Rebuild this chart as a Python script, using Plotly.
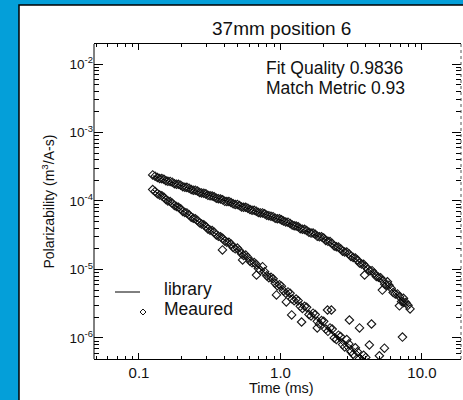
import plotly.graph_objects as go

# ---------------- data ----------------
time_ms = [0.125, 0.135, 0.145, 0.155, 0.166, 0.178, 0.19, 0.204, 0.218, 0.234,
           0.25, 0.268, 0.287, 0.307, 0.329, 0.352, 0.377, 0.404, 0.432, 0.463,
           0.496, 0.531, 0.568, 0.609, 0.652, 0.698, 0.747, 0.8, 0.857, 0.918,
           0.983, 1.05, 1.13, 1.21, 1.29, 1.38, 1.48, 1.59, 1.7, 1.82,
           1.95, 2.09, 2.24, 2.4, 2.57, 2.75, 2.94, 3.15, 3.38, 3.62,
           3.87, 4.15, 4.44, 4.76, 5.1, 5.46, 5.85, 6.26, 6.71, 7.18,
           7.69, 8.24]

time_ms_b = [0.13, 0.14, 0.15, 0.16, 0.172, 0.184, 0.197, 0.211, 0.226, 0.242,
             0.259, 0.277, 0.297, 0.318, 0.34, 0.364, 0.39, 0.418, 0.447, 0.479,
             0.513, 0.549, 0.588, 0.63, 0.675, 0.722, 0.773, 0.828, 0.887, 0.95,
             1.016, 1.09, 1.17, 1.25, 1.335, 1.43, 1.53, 1.645, 1.76, 1.885,
             2.02, 2.165, 2.32, 2.485, 2.66, 2.845, 3.045, 3.265, 3.5, 3.745,
             4.01, 4.295, 4.6, 4.93, 5.28, 5.655, 6.055, 6.485, 6.945, 7.435,
             7.965]

upper_measured = [2.40e-4, 2.20e-4, 2.12e-4, 1.98e-4, 1.93e-4, 1.79e-4, 1.75e-4, 1.62e-4, 1.58e-4, 1.47e-4,
                  1.44e-4, 1.33e-4, 1.30e-4, 1.21e-4, 1.18e-4, 1.10e-4, 1.07e-4, 0.99e-4, 9.8e-5, 9.1e-5,
                  8.9e-5, 8.2e-5, 8.1e-5, 7.5e-5, 7.3e-5, 6.8e-5, 6.7e-5, 6.2e-5, 6.0e-5, 5.6e-5,
                  5.5e-5, 5.1e-5, 4.9e-5, 4.45e-5, 4.3e-5, 3.95e-5, 3.85e-5, 3.5e-5, 3.4e-5, 3.05e-5,
                  3.0e-5, 2.65e-5, 2.55e-5, 2.2e-5, 2.12e-5, 1.85e-5, 1.8e-5, 1.55e-5, 1.47e-5, 1.24e-5,
                  1.19e-5, 1.0e-5, 9.6e-6, 7.9e-6, 7.6e-6, 6.1e-6, 5.9e-6, 4.6e-6, 4.4e-6, 3.4e-6,
                  3.3e-6, 2.65e-6]

upper_measured_b = [2.30e-4, 2.13e-4, 2.07e-4, 1.94e-4, 1.88e-4, 1.76e-4, 1.70e-4, 1.59e-4, 1.54e-4, 1.44e-4,
                    1.40e-4, 1.31e-4, 1.27e-4, 1.19e-4, 1.15e-4, 1.08e-4, 1.04e-4, 9.8e-5, 9.5e-5, 8.9e-5,
                    8.6e-5, 8.1e-5, 7.85e-5, 7.35e-5, 7.1e-5, 6.7e-5, 6.5e-5, 6.1e-5, 5.9e-5, 5.5e-5,
                    5.3e-5, 4.95e-5, 4.7e-5, 4.35e-5, 4.2e-5, 3.88e-5, 3.7e-5, 3.4e-5, 3.27e-5, 3.0e-5,
                    2.87e-5, 2.58e-5, 2.4e-5, 2.15e-5, 2.0e-5, 1.8e-5, 1.7e-5, 1.5e-5, 1.37e-5, 1.2e-5,
                    1.1e-5, 9.6e-6, 8.8e-6, 7.7e-6, 6.9e-6, 5.9e-6, 5.3e-6, 4.4e-6, 4.0e-6, 3.3e-6,
                    3.0e-6]

upper_library = [2.34e-4, 2.22e-4, 2.10e-4, 2.00e-4, 1.91e-4, 1.81e-4, 1.73e-4, 1.64e-4, 1.57e-4, 1.49e-4,
                 1.42e-4, 1.35e-4, 1.29e-4, 1.23e-4, 1.17e-4, 1.11e-4, 1.06e-4, 1.01e-4, 9.66e-5, 9.20e-5,
                 8.77e-5, 8.36e-5, 7.98e-5, 7.59e-5, 7.24e-5, 6.90e-5, 6.59e-5, 6.28e-5, 5.98e-5, 5.70e-5,
                 5.43e-5, 5.14e-5, 4.81e-5, 4.52e-5, 4.27e-5, 4.02e-5, 3.78e-5, 3.54e-5, 3.33e-5, 3.13e-5,
                 2.94e-5, 2.72e-5, 2.48e-5, 2.27e-5, 2.07e-5, 1.90e-5, 1.75e-5, 1.60e-5, 1.43e-5, 1.28e-5,
                 1.15e-5, 1.03e-5, 9.23e-6, 8.22e-6, 7.31e-6, 6.37e-6, 5.56e-6, 4.82e-6, 4.19e-6, 3.65e-6,
                 3.17e-6, 2.75e-6]

upper_scatter_t = [3.93, 5.25, 5.7, 6.93, 7.4]
upper_scatter_y = [8.3e-6, 5.0e-6, 6.6e-6, 2.95e-6, 3.8e-6]

lower_measured = [1.47e-4, 1.28e-4, 1.19e-4, 1.05e-4, 9.8e-5, 8.6e-5, 8.1e-5, 7.0e-5, 6.7e-5, 5.8e-5,
                  5.5e-5, 4.8e-5, 4.5e-5, 3.9e-5, 3.7e-5, 3.2e-5, 3.0e-5, 2.6e-5, 2.5e-5, 2.1e-5,
                  2.05e-5, 1.7e-5, 1.62e-5, 1.32e-5, 1.26e-5, 1.03e-5, 1.1e-5, 8.1e-6, 7.7e-6, 6.3e-6,
                  6.0e-6, 4.9e-6, 4.7e-6, 3.7e-6, 3.7e-6, 2.9e-6, 2.9e-6, 2.2e-6, 2.3e-6, 1.75e-6,
                  1.8e-6, 1.35e-6, 1.4e-6, 1.0e-6, 1.1e-6, 8.0e-7, 9.5e-7, 6.3e-7, 7.2e-7, 5.0e-7,
                  5.6e-7, 4.3e-7, 4.0e-7]

lower_measured_b = [1.38e-4, 1.22e-4, 1.13e-4, 1.0e-4, 9.3e-5, 8.3e-5, 7.7e-5, 6.8e-5, 6.3e-5, 5.6e-5,
                    5.2e-5, 4.6e-5, 4.25e-5, 3.75e-5, 3.5e-5, 3.05e-5, 2.85e-5, 2.5e-5, 2.35e-5, 2.0e-5,
                    1.9e-5, 1.6e-5, 1.5e-5, 1.25e-5, 1.18e-5, 0.97e-5, 9.3e-6, 7.6e-6, 7.3e-6, 5.8e-6,
                    5.7e-6, 4.5e-6, 4.5e-6, 3.5e-6, 3.5e-6, 2.7e-6, 2.8e-6, 2.1e-6, 2.2e-6, 1.6e-6,
                    1.75e-6, 1.25e-6, 1.35e-6, 0.95e-6, 1.05e-6, 7.4e-7, 8.2e-7, 5.8e-7, 6.3e-7, 4.6e-7,
                    5.2e-7, 4.0e-7]

lower_library = [1.45e-4, 1.30e-4, 1.17e-4, 1.07e-4, 9.66e-5, 8.77e-5, 7.98e-5, 7.21e-5, 6.58e-5, 5.94e-5,
                 5.41e-5, 4.89e-5, 4.42e-5, 4.00e-5, 3.61e-5, 3.27e-5, 2.96e-5, 2.67e-5, 2.43e-5, 2.18e-5,
                 1.98e-5, 1.76e-5, 1.56e-5, 1.37e-5, 1.22e-5, 1.07e-5, 9.53e-6, 8.41e-6, 7.43e-6, 6.56e-6,
                 5.79e-6, 5.15e-6, 4.50e-6, 3.96e-6, 3.52e-6, 3.12e-6, 2.75e-6, 2.41e-6, 2.13e-6, 1.88e-6,
                 1.66e-6, 1.46e-6, 1.28e-6, 1.12e-6, 9.86e-7, 8.71e-7, 7.67e-7, 6.75e-7, 5.93e-7, 5.21e-7,
                 4.59e-7, 4.04e-7, 3.56e-7]

lower_branch_a_t = [2.24, 2.75, 3.38, 4.15]
lower_branch_a_y = [1.3e-6, 9.5e-7, 6.8e-7, 4.5e-7]
lower_branch_b_t = [2.24, 2.75, 3.38]
lower_branch_b_y = [1.25e-6, 8.0e-7, 4.5e-7]

lower_scatter_t = [0.389, 0.54, 0.677, 0.937, 1.10, 1.20, 1.41, 1.82, 2.15, 2.29,
                   3.07, 3.62, 4.4, 4.25, 5.43, 7.28, 5.0]
lower_scatter_y = [1.93e-5, 1.38e-5, 8.3e-6, 4.25e-6, 3.36e-6, 2.17e-6, 1.71e-6, 1.4e-6, 2.56e-6, 2.56e-6,
                   1.83e-6, 1.4e-6, 1.6e-6, 7.9e-7, 7.1e-7, 1.03e-6, 5.5e-7]

x_tick_vals = [0.1, 1, 10]
x_tick_text = ["0.1", "1.0", "10.0"]
y_tick_vals = [1e-2, 1e-3, 1e-4, 1e-5, 1e-6]
y_tick_text = ["10<sup>-2</sup>", "10<sup>-3</sup>", "10<sup>-4</sup>", "10<sup>-5</sup>", "10<sup>-6</sup>"]

title_text = "37mm position 6"
fit_quality = "Fit Quality 0.9836"
match_metric = "Match Metric 0.93"
legend_labels = ["library", "Meaured"]

# ---------------- figure ----------------
W, H = 463, 400
L_, R_, T_, B_ = 94, 2, 44, 41
PW, PH = W - L_ - R_, H - T_ - B_

def px(x):
    return (x - L_) / PW

def py(y):
    return 1 - (y - T_) / PH

FONT = "Liberation Sans, Arial, sans-serif"
mcol = "#151515"
marker = dict(symbol="diamond-open", size=6.5, color=mcol, line=dict(width=1.1, color=mcol))

fig = go.Figure()
for xs, ys in [(time_ms, upper_measured), (time_ms_b, upper_measured_b),
               (upper_scatter_t, upper_scatter_y),
               (time_ms[:len(lower_measured)], lower_measured),
               (time_ms_b[:len(lower_measured_b)], lower_measured_b),
               (lower_scatter_t, lower_scatter_y)]:
    fig.add_trace(go.Scatter(x=xs, y=ys, mode="markers", marker=marker, showlegend=False))

line = dict(color="black", width=1)
for xs, ys in [(time_ms, upper_library), (time_ms[:len(lower_library)], lower_library),
               (lower_branch_a_t, lower_branch_a_y), (lower_branch_b_t, lower_branch_b_y)]:
    fig.add_trace(go.Scatter(x=xs, y=ys, mode="lines", line=line, showlegend=False))

minor_x = [0.05, 0.06, 0.07, 0.08, 0.09] + [k / 10 for k in range(2, 10)] + list(range(2, 10))
minor_y = [k * 10.0 ** e for e in range(-7, -1) for k in range(2, 10)]

fig.update_xaxes(type="log", range=[-1.318, 1.276], tickmode="array",
                 tickvals=x_tick_vals, ticktext=x_tick_text,
                 ticks="inside", ticklen=6, tickwidth=1, tickcolor="black",
                 showline=True, linecolor="black", linewidth=1, mirror="ticks",
                 showgrid=False, zeroline=False,
                 tickfont=dict(family=FONT, size=15, color="#111"),
                 minor=dict(tickmode="array", tickvals=minor_x, ticks="inside",
                            ticklen=3, tickcolor="black", tickwidth=1, showgrid=False))
fig.update_yaxes(type="log", range=[-6.307, -1.708], tickmode="array",
                 tickvals=y_tick_vals, ticktext=y_tick_text,
                 ticks="inside", ticklen=9, tickwidth=1, tickcolor="black",
                 showline=False, mirror="ticks",
                 showgrid=False, zeroline=False,
                 tickfont=dict(family=FONT, size=13.5, color="#111"),
                 minor=dict(tickmode="array", tickvals=minor_y, ticks="inside",
                            ticklen=5, tickcolor="black", tickwidth=1, showgrid=False))

shapes = [
    dict(type="rect", xref="paper", yref="paper", x0=px(19), x1=px(475), y0=py(415), y1=py(5),
         fillcolor="white", line=dict(color="black", width=1.5), layer="below"),
    dict(type="line", xref="paper", yref="paper", x0=0, x1=0, y0=0, y1=1,
         line=dict(color="black", width=1)),
    dict(type="line", xref="paper", yref="paper", x0=1, x1=1, y0=0, y1=1,
         line=dict(color="#555", width=1, dash="dot")),
    dict(type="line", xref="paper", yref="paper", x0=px(115), x1=px(140), y0=py(292), y1=py(292),
         line=dict(color="black", width=1)),
    dict(type="path", xref="paper", yref="paper",
         path=f"M {px(143)},{py(309)} L {px(146)},{py(312)} L {px(143)},{py(315)} L {px(140)},{py(312)} Z",
         line=dict(color=mcol, width=1)),
]

annotations = [
    dict(text=title_text, x=px(281), y=py(29), xref="paper", yref="paper", showarrow=False,
         xanchor="center", yanchor="middle", font=dict(family=FONT, size=19, color="#111")),
    dict(text=fit_quality, x=px(264), y=py(68), xref="paper", yref="paper", showarrow=False,
         xanchor="left", yanchor="middle", font=dict(family=FONT, size=17.5, color="#111")),
    dict(text=match_metric, x=px(264), y=py(88), xref="paper", yref="paper", showarrow=False,
         xanchor="left", yanchor="middle", font=dict(family=FONT, size=17.5, color="#111")),
    dict(text=legend_labels[0], x=px(162), y=py(289), xref="paper", yref="paper", showarrow=False,
         xanchor="left", yanchor="middle", font=dict(family=FONT, size=17.5, color="#111")),
    dict(text=legend_labels[1], x=px(162), y=py(309), xref="paper", yref="paper", showarrow=False,
         xanchor="left", yanchor="middle", font=dict(family=FONT, size=17.5, color="#111")),
    dict(text="Polarizability (m<sup>3</sup>/A-s)", x=px(48), y=0.5, xref="paper", yref="paper",
         showarrow=False, textangle=-90, xanchor="center", yanchor="middle",
         font=dict(family=FONT, size=14, color="#111")),
    dict(text="Time (ms)", x=px(281), y=py(388), xref="paper", yref="paper", showarrow=False,
         xanchor="center", yanchor="middle", font=dict(family=FONT, size=14.5, color="#111")),
]

fig.update_layout(width=W, height=H, margin=dict(l=L_, r=R_, t=T_, b=B_, autoexpand=False),
                  paper_bgcolor="#049fd9", plot_bgcolor="rgba(0,0,0,0)",
                  shapes=shapes, annotations=annotations, showlegend=False)

fig.write_html("out.html", config={"displayModeBar": False},
               post_script="document.body.style.margin='0';document.body.style.overflow='hidden';"
                           "document.body.style.background='#049fd9';")
